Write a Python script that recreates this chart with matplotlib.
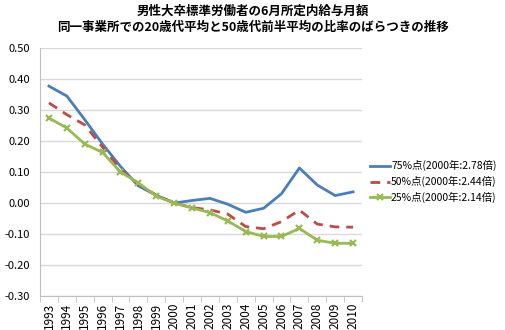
import matplotlib
matplotlib.use("Agg")
import matplotlib.pyplot as plt
from matplotlib.ticker import FixedLocator

plt.rcParams["font.family"] = ["Noto Sans CJK JP", "DejaVu Sans"]

years = [str(y) for y in range(1993, 2011)]
p75 = [0.377, 0.345, 0.269, 0.190, 0.118, 0.055, 0.025, 0.000, 0.008, 0.015,
       -0.004, -0.030, -0.017, 0.030, 0.113, 0.058, 0.024, 0.036]
p50 = [0.323, 0.285, 0.252, 0.180, 0.108, 0.060, 0.025, 0.000, -0.015, -0.022,
       -0.036, -0.076, -0.083, -0.060, -0.023, -0.068, -0.077, -0.078]
p25 = [0.274, 0.242, 0.190, 0.163, 0.100, 0.065, 0.022, 0.000, -0.016, -0.031,
       -0.058, -0.092, -0.108, -0.108, -0.082, -0.120, -0.130, -0.130]
labels = ["75%点(2000年:2.78倍)", "50%点(2000年:2.44倍)", "25%点(2000年:2.14倍)"]
yticks = [0.5, 0.4, 0.3, 0.2, 0.1, 0.0, -0.1, -0.2, -0.3]

title = ("男性大卒標準労働者の6月所定内給与月額\n"
         "同一事業所での20歳代平均と50歳代前半平均の比率のばらつきの推移")

fig = plt.figure(figsize=(5.06, 3.30), dpi=100)
ax = fig.add_axes([40 / 506, 34 / 330, 322 / 506, 248 / 330])

x = list(range(len(years)))
ax.plot(x, p75, color="#4A7EBB", lw=2.0, label=labels[0])
ax.plot(x, p50, color="#BE4B48", lw=2.0, ls=(0, (3.5, 2.5)), label=labels[1])
ax.plot(x, p25, color="#98B954", lw=2.0, marker="x", ms=4, mew=1.6,
        label=labels[2])

ax.set_xlim(-0.5, len(years) - 0.5)
ax.set_ylim(-0.3, 0.5)
ax.set_yticks(yticks)
ax.set_yticklabels([f"{v:.2f}" for v in yticks], fontsize=8)
ax.set_xticks(x)
ax.set_xticklabels(years, rotation=90, fontsize=8.5)
ax.xaxis.set_minor_locator(FixedLocator([i - 0.5 for i in range(len(years) + 1)]))
ax.tick_params(axis="x", which="major", length=0, pad=5)
ax.tick_params(axis="x", which="minor", length=4, color="#BFBFBF")
ax.tick_params(axis="y", length=0, pad=7)

ax.grid(axis="y", color="#D9D9D9", lw=1.0)
ax.set_axisbelow(True)
for s in ["top", "right"]:
    ax.spines[s].set_visible(False)
for s in ["left", "bottom"]:
    ax.spines[s].set_color("#BFBFBF")

fig.text(0.5, 0.985, title, ha="center", va="top", fontsize=9,
         fontweight="bold", linespacing=1.35)

fig.legend(loc="upper left", bbox_to_anchor=(366 / 506, 1 - 156 / 330),
           frameon=False, fontsize=7.5, handlelength=1.9, handletextpad=0.1,
           labelspacing=0.45, borderaxespad=0)

fig.savefig("out.png", dpi=100)
